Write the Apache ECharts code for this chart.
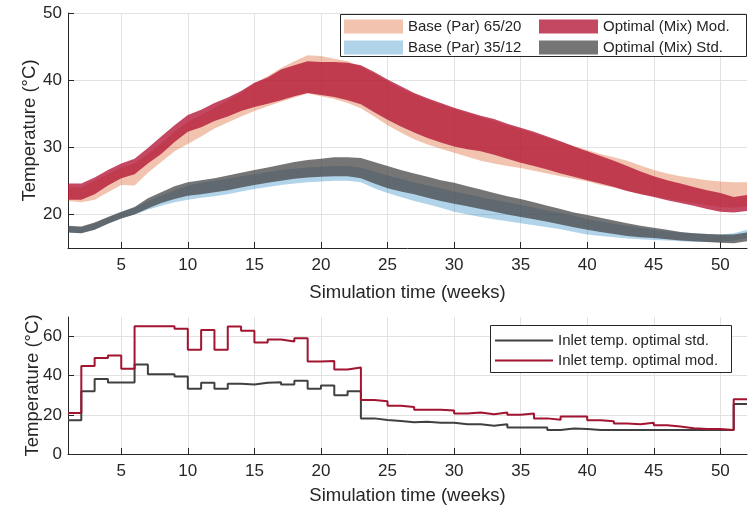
<!DOCTYPE html>
<html>
<head>
<meta charset="utf-8">
<script src="https://cdn.jsdelivr.net/npm/echarts@6/dist/echarts.min.js"></script>
<style>
  html, body { margin: 0; padding: 0; background: #fff; }
  #chart { width: 750px; height: 506px; }
</style>
</head>
<body>
<div id="chart"></div>
<script>
  // weeks 1..52
  const weeks = Array.from({length: 52}, (_, i) => i + 1);
  const xTicks = [5, 10, 15, 20, 25, 30, 35, 40, 45, 50];
  const yTicksTop = [20, 30, 40, 50];
  const yTicksBottom = [0, 20, 40, 60];

  // temperature bands (lower / upper edge per week)
  const base65Low = [22.0,21.8,22.2,23.3,24.4,24.3,26.2,27.8,29.4,30.5, 31.6,32.8,33.7,34.6,35.4,36.1,36.8,37.4,38.0,37.6, 37.2,36.6,35.8,34.6,33.3,32.2,31.2,30.4,29.8,29.2, 28.6,28.0,27.6,27.2,26.9,26.5,26.1,25.7,25.3,24.9, 24.4,24.0,23.5,23.1,22.7,22.3,22.0,21.7,21.4,21.1, 21.0,21.2];
  const base65High = [24.0,24.0,25.0,26.0,27.0,27.6,29.0,30.6,32.3,33.8, 34.8,35.9,37.0,38.2,39.5,40.6,41.8,42.8,43.7,43.6, 43.2,42.8,42.0,41.0,39.8,38.8,37.9,37.1,36.4,35.7, 35.1,34.5,33.9,33.3,32.7,32.1,31.4,30.8,30.2,29.6, 29.0,28.5,28.0,27.3,26.6,26.1,25.7,25.4,25.1,24.9, 24.8,24.8];
  const base35Low = [17.3,17.2,17.7,18.6,19.4,20.0,20.7,21.3,21.8,22.2, 22.5,22.7,23.0,23.4,23.8,24.1,24.4,24.6,24.8,24.9, 25.0,25.0,24.8,23.9,23.2,22.6,22.0,21.5,21.0,20.4, 20.0,19.6,19.3,19.0,18.7,18.4,18.1,17.8,17.4,17.0, 16.8,16.6,16.4,16.3,16.2,16.1,16.0,15.9,15.9,15.9, 16.1,16.5];
  const base35High = [18.2,18.1,18.7,19.5,20.3,21.0,22.0,22.8,23.6,24.3, 24.7,25.0,25.3,25.7,26.0,26.3,26.6,26.8,27.0,27.1, 27.2,27.2,27.0,26.4,25.8,25.3,24.8,24.3,23.9,23.4, 23.0,22.6,22.2,21.8,21.4,21.0,20.6,20.2,19.8,19.3, 19.0,18.6,18.3,18.0,17.7,17.5,17.3,17.2,17.1,17.0, 17.2,17.7];
  const optModLow = [22.2,22.2,23.0,24.3,25.4,26.0,27.6,29.0,30.8,32.3, 33.0,33.9,34.6,35.4,36.0,36.5,37.0,37.6,38.1,37.8, 37.5,37.0,36.4,35.2,34.1,33.1,32.2,31.4,30.7,30.1, 29.7,29.4,28.9,28.3,27.7,27.2,26.7,26.1,25.6,25.1, 24.6,24.1,23.5,23.0,22.6,22.1,21.7,21.3,20.8,20.4, 20.3,20.5];
  const optModHigh = [24.6,24.6,25.5,26.6,27.6,28.3,29.9,31.6,33.3,34.8, 35.6,36.6,37.4,38.4,39.6,40.4,41.6,42.2,42.8,42.7, 42.7,42.6,42.2,41.2,40.1,39.1,38.1,37.3,36.6,35.9, 35.3,34.7,34.2,33.5,32.9,32.3,31.6,30.9,30.1,29.4, 28.7,28.0,27.2,26.4,25.7,25.1,24.6,24.1,23.6,23.2, 22.6,22.9];
  const optStdLow = [17.3,17.2,17.7,18.6,19.4,20.0,20.9,21.7,22.3,22.8, 23.0,23.3,23.6,24.0,24.4,24.7,25.0,25.3,25.5,25.6, 25.7,25.7,25.4,24.6,23.9,23.4,23.0,22.5,22.0,21.6, 21.2,20.8,20.4,20.0,19.6,19.3,18.9,18.5,18.1,17.7, 17.4,17.1,16.8,16.6,16.5,16.3,16.1,16.0,15.9,15.8, 15.7,16.0];
  const optStdHigh = [18.3,18.2,18.8,19.6,20.4,21.1,22.4,23.3,24.2,24.8, 25.1,25.4,25.8,26.2,26.6,27.0,27.4,27.8,28.1,28.3, 28.5,28.5,28.4,27.8,27.2,26.6,26.1,25.6,25.1,24.7, 24.2,23.7,23.2,22.7,22.3,21.8,21.3,20.8,20.3,19.9, 19.5,19.1,18.7,18.3,18.0,17.7,17.4,17.2,17.1,17.0, 17.0,17.3];

  // inlet temperatures (value held from week w to w+1)
  const inletStd = [17.2,32,38.3,36.5,36.5,45.7,40.8,40.8,39.6,33.4, 36.4,33.4,35.9,35.5,36.4,36.7,35.5,37.4,33.4,35, 30,32,18.2,17.4,16.9,16.2,16.5,16,16,15.2, 15.2,14.4,15.2,13.5,13.5,13.5,12.3,13,12.8,12.3, 12.3,12.3,12.3,12.3,12.3,12.3,12.3,12.3,12.3,12.3, 25.6,25.6];
  const inletMod = [21,45,49,50.3,43.5,65.3,65.3,65.3,64,53.3, 63.4,53.3,65.2,63,57,58.5,57.5,59.2,47.3,47.5, 43.2,44.2,27.6,27,24.6,24,22.6,22.6,22.2,20.7, 21.2,20.3,21.2,20.1,20.7,18.2,17.5,19.2,19.2,17.2, 16.7,15.6,15.2,16,14.7,14,13.2,12.8,12.8,12.3, 28,28];

  const FONT = 'Liberation Sans, Arial, sans-serif';
  const TXT = '#262626';
  const GRIDLINE = '#e2e2e2';

  const isTick = (idx, val) => xTicks.indexOf(Number(val)) >= 0;

  function band(name, low, high, color, stackId) {
    return [
      {
        type: 'line', stack: stackId, xAxisIndex: 0, yAxisIndex: 0,
        data: low, symbol: 'none', silent: true,
        lineStyle: {opacity: 0}
      },
      {
        name: name, type: 'line', stack: stackId, xAxisIndex: 0, yAxisIndex: 0,
        data: high.map((v, i) => +(v - low[i]).toFixed(2)),
        symbol: 'none', silent: true,
        lineStyle: {opacity: 0},
        itemStyle: {color: color},
        areaStyle: {color: color, opacity: 1}
      }
    ];
  }

  function xAxisCfg(gridIndex, nameGap) {
    return {
      type: 'category', gridIndex: gridIndex, data: weeks, boundaryGap: false,
      name: 'Simulation time (weeks)', nameLocation: 'middle', nameGap: nameGap,
      nameTextStyle: {fontSize: 18.5, color: TXT, fontFamily: FONT},
      axisLine: {show: true, lineStyle: {color: TXT, width: 1}},
      axisTick: {show: true, inside: true, length: 6, interval: isTick, lineStyle: {color: TXT}},
      axisLabel: {interval: isTick, margin: 9, fontSize: 17, color: TXT, fontFamily: FONT},
      splitLine: {show: true, interval: isTick, lineStyle: {color: GRIDLINE, width: 1}}
    };
  }

  function yAxisCfg(gridIndex, min, max, ticks, nameGap) {
    return {
      type: 'value', gridIndex: gridIndex, min: min, max: max,
      name: 'Temperature (°C)', nameLocation: 'middle', nameGap: nameGap, nameRotate: 90,
      nameMoveOverlap: false,
      nameTextStyle: {fontSize: 18.5, color: TXT, fontFamily: FONT},
      axisLine: {show: true, lineStyle: {color: TXT, width: 1}},
      axisTick: {show: true, inside: true, length: 6, customValues: ticks, lineStyle: {color: TXT}},
      axisLabel: {customValues: ticks, margin: 6, fontSize: 17, color: TXT, fontFamily: FONT},
      splitLine: {show: true, lineStyle: {color: GRIDLINE, width: 1}}
    };
  }

  const chart = echarts.init(document.getElementById('chart'), null, {renderer: 'canvas'});

  const legendText = {fontSize: 15, color: TXT, fontFamily: FONT, lineHeight: 14};

  chart.setOption({
    animation: false,
    backgroundColor: '#fff',
    textStyle: {fontFamily: FONT},
    grid: [
      {left: 68, top: 13, width: 679, height: 235},
      {left: 68, top: 317, width: 679, height: 142}
    ],
    xAxis: [xAxisCfg(0, 35), xAxisCfg(1, 32)],
    yAxis: [yAxisCfg(0, 15, 50, yTicksTop, 29), yAxisCfg(1, 0, 70, yTicksBottom, 26)],
    graphic: [
      {type: 'rect', z: 10, shape: {x: 340.5, y: 14.5, width: 406, height: 42},
        style: {fill: '#fff', stroke: TXT, lineWidth: 1}},
      {type: 'rect', z: 10, shape: {x: 490.5, y: 325.5, width: 241, height: 47},
        style: {fill: '#fff', stroke: TXT, lineWidth: 1}}
    ],
    legend: [
      {
        z: 20, left: 344, top: 19, orient: 'vertical', padding: 0,
        itemWidth: 59, itemHeight: 14, itemGap: 6, selectedMode: false,
        textStyle: legendText,
        data: [{name: 'Base (Par) 65/20', icon: 'rect'}, {name: 'Base (Par) 35/12', icon: 'rect'}]
      },
      {
        z: 20, left: 539, top: 19, orient: 'vertical', padding: 0,
        itemWidth: 59, itemHeight: 14, itemGap: 6, selectedMode: false,
        textStyle: legendText,
        data: [{name: 'Optimal (Mix) Mod.', icon: 'rect'}, {name: 'Optimal (Mix) Std.', icon: 'rect'}]
      },
      {
        z: 20, left: 495, top: 333, orient: 'vertical', padding: 0,
        itemWidth: 58, itemHeight: 2, itemGap: 5, selectedMode: false,
        textStyle: legendText,
        data: [{name: 'Inlet temp. optimal std.', icon: 'rect'}, {name: 'Inlet temp. optimal mod.', icon: 'rect'}]
      }
    ],
    series: [].concat(
      band('Base (Par) 65/20', base65Low, base65High, 'rgba(217,83,25,0.35)', 'b65'),
      band('Base (Par) 35/12', base35Low, base35High, 'rgba(0,114,189,0.30)', 'b35'),
      band('Optimal (Mix) Mod.', optModLow, optModHigh, 'rgba(180,20,52,0.78)', 'om'),
      band('Optimal (Mix) Std.', optStdLow, optStdHigh, 'rgba(64,64,64,0.72)', 'os'),
      [
        {
          name: 'Inlet temp. optimal std.', type: 'line', xAxisIndex: 1, yAxisIndex: 1,
          data: inletStd, step: 'end', symbol: 'none', silent: true,
          itemStyle: {color: '#404040'},
          lineStyle: {color: '#404040', width: 2}
        },
        {
          name: 'Inlet temp. optimal mod.', type: 'line', xAxisIndex: 1, yAxisIndex: 1,
          data: inletMod, step: 'end', symbol: 'none', silent: true,
          itemStyle: {color: '#a2142f'},
          lineStyle: {color: '#a2142f', width: 2}
        }
      ]
    )
  });
</script>
</body>
</html>
